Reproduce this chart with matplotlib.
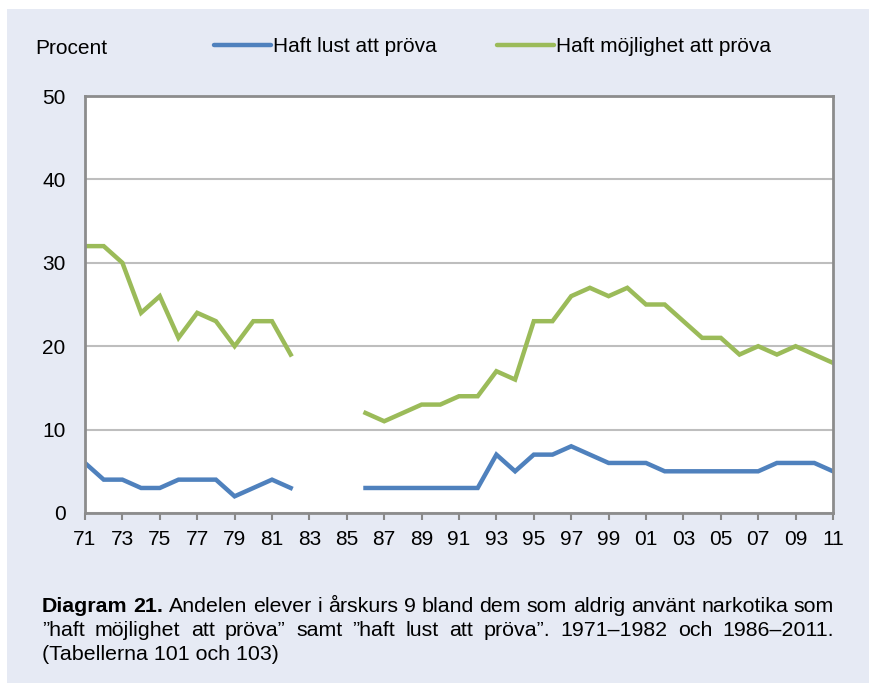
import matplotlib
matplotlib.use('Agg')
import matplotlib.pyplot as plt
import numpy as np
from matplotlib.patches import Rectangle

plt.rcParams['font.family'] = ['Liberation Sans', 'DejaVu Sans']

# data (percent)
years1 = list(range(1971, 1983))
lust1 = [6, 4, 4, 3, 3, 4, 4, 4, 2, 3, 4, 3]
mojl1 = [32, 32, 30, 24, 26, 21, 24, 23, 20, 23, 23, 19]
years2 = list(range(1986, 2012))
lust2 = [3, 3, 3, 3, 3, 3, 3, 7, 5, 7, 7, 8, 7, 6, 6, 6, 5, 5, 5, 5, 5, 5, 6, 6, 6, 5]
mojl2 = [12, 11, 12, 13, 13, 14, 14, 17, 16, 23, 23, 26, 27, 26, 27, 25, 25, 23, 21, 21, 19, 20, 19, 20, 19, 18]
all_years = list(range(1971, 2012))
tick_years = all_years[::2]
tick_labels = ['%02d' % (y % 100) for y in tick_years]

blue = '#4F81BD'
green = '#9BBB59'
bg = '#E6EAF4'
fs = 15

W, H = 869, 683
fig = plt.figure(figsize=(W / 100, H / 100), dpi=100)
fig.patch.set_facecolor('white')
fig.add_artist(Rectangle((7 / W, 0), 1, 1 - 9 / H, transform=fig.transFigure,
                         facecolor=bg, edgecolor='none', zorder=-10))

ax = fig.add_axes([85 / W, 1 - 513 / H, 748 / W, 417 / H])
ax.set_facecolor('white')

ax.plot(years1, mojl1, color=green, lw=3.2, solid_joinstyle='miter', label='Haft möjlighet att pröva')
ax.plot(years2, mojl2, color=green, lw=3.2, solid_joinstyle='miter')
ax.plot(years1, lust1, color=blue, lw=3.2, solid_joinstyle='miter', label='Haft lust att pröva')
ax.plot(years2, lust2, color=blue, lw=3.2, solid_joinstyle='miter')

ax.set_xlim(1971, 2011)
ax.set_ylim(0, 50)
ax.set_yticks(range(0, 51, 10))
ax.set_xticks(tick_years)
ax.set_xticklabels(tick_labels)
ax.tick_params(axis='y', length=0, pad=14, labelsize=fs)
ax.tick_params(axis='x', length=5, width=1.5, color='#888888', pad=7, labelsize=fs)
ax.grid(axis='y', color='#BEBEBE', lw=1.5)
ax.set_axisbelow(True)
for s in ax.spines.values():
    s.set_color('#8C8C8C')
    s.set_linewidth(2)

fig.text(35 / W, 1 - 48 / H, 'Procent', fontsize=fs, va='center', ha='left')

h, l = ax.get_legend_handles_labels()
leg = fig.legend(h[::-1], l[::-1], loc='center left', bbox_to_anchor=(206 / W, 1 - 47 / H),
                 ncol=2, frameon=False, fontsize=fs, handlelength=2.7, handletextpad=0.12,
                 columnspacing=2.9, borderaxespad=0)
for ln in leg.get_lines():
    ln.set_solid_capstyle('round')

# caption, justified lines
fig.canvas.draw()
r = fig.canvas.get_renderer()
x0, x1 = 42 / W, 834 / W
cap_fs = 15.4


def justify(words, y, bold_first=0):
    arts = []
    for i, w in enumerate(words):
        t = fig.text(0, y, w, fontsize=cap_fs, va='center', ha='left',
                     fontweight='bold' if i < bold_first else 'normal')
        arts.append(t)
    widths = [a.get_window_extent(r).width / W for a in arts]
    gap = (x1 - x0 - sum(widths)) / (len(words) - 1)
    x = x0
    for a, w in zip(arts, widths):
        a.set_x(x)
        x += w + gap


line1 = 'Diagram 21. Andelen elever i årskurs 9 bland dem som aldrig använt narkotika som'.split()
line2 = '”haft möjlighet att pröva” samt ”haft lust att pröva”. 1971–1982 och 1986–2011.'.split()
justify(line1, 1 - 606 / H, bold_first=2)
justify(line2, 1 - 630 / H)
fig.text(x0, 1 - 654 / H, '(Tabellerna 101 och 103)', fontsize=cap_fs, va='center', ha='left')

fig.savefig('out.png', dpi=100, facecolor=fig.get_facecolor())
